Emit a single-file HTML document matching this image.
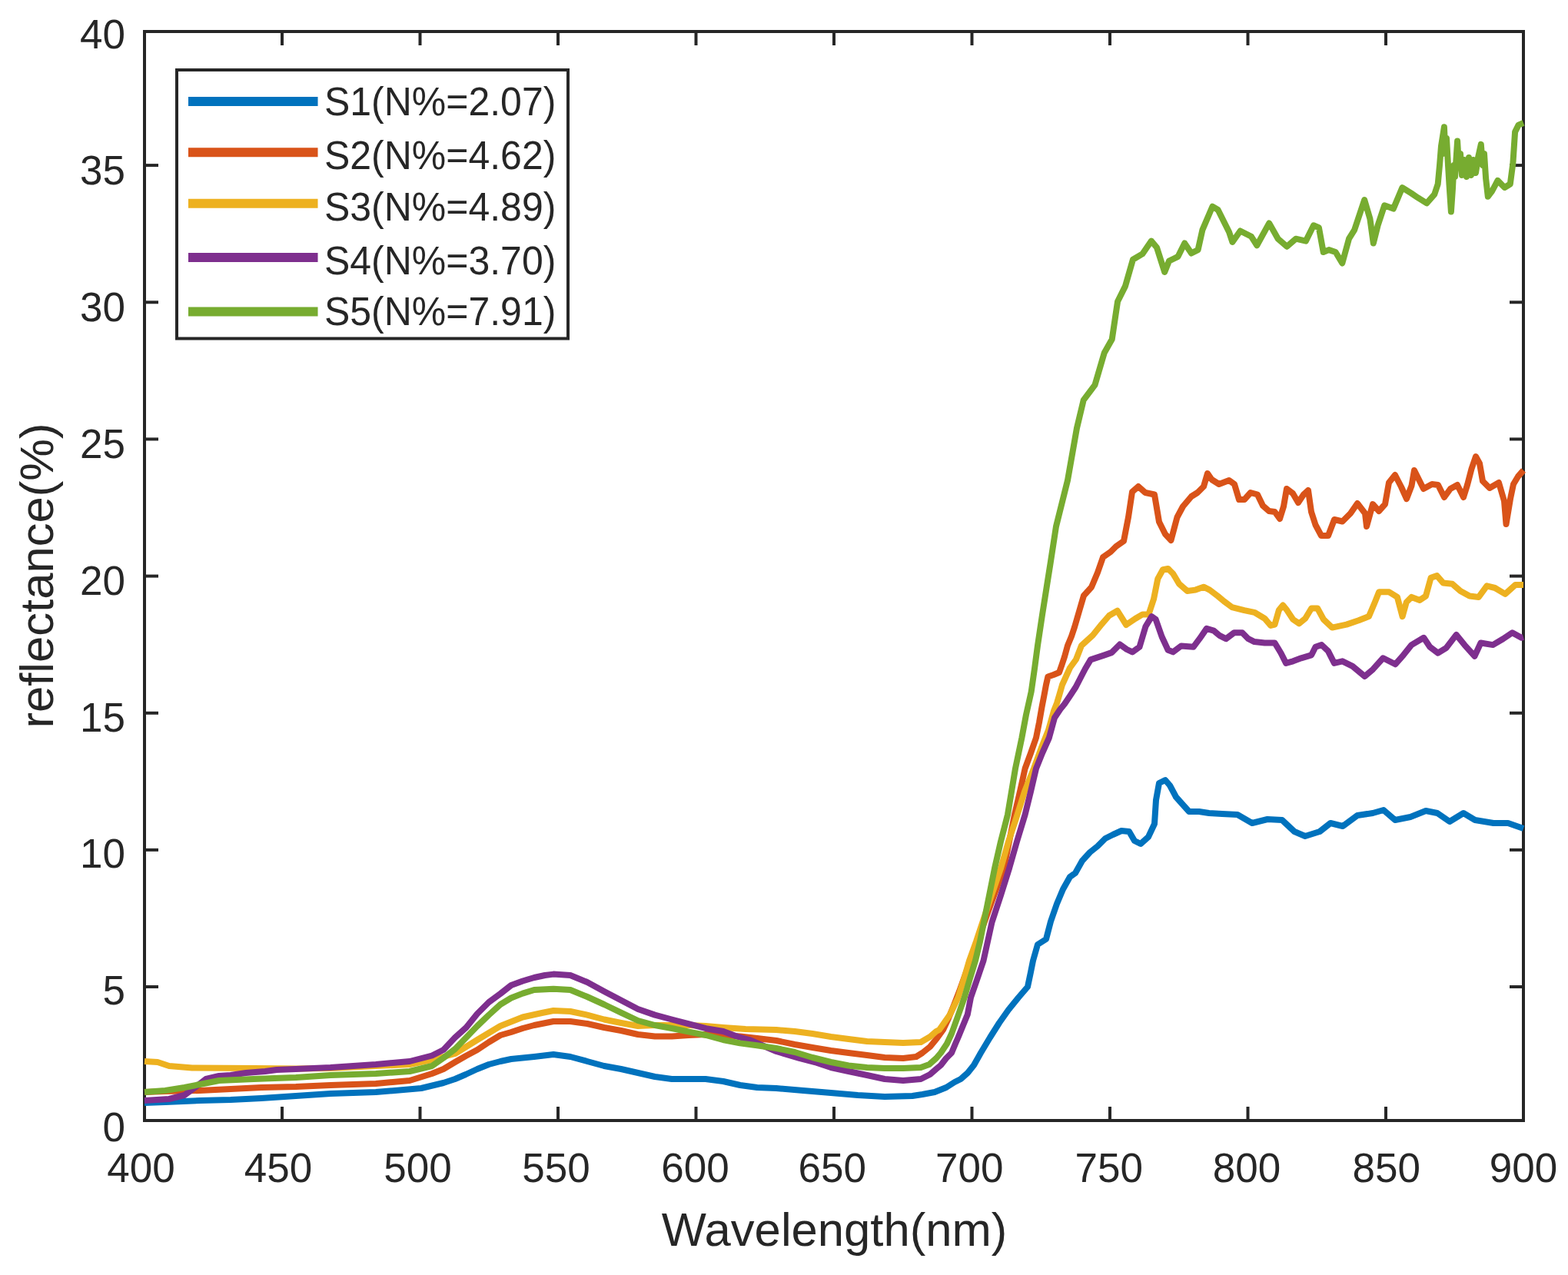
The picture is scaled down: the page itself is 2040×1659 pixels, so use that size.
<!DOCTYPE html>
<html><head><meta charset="utf-8"><title>reflectance</title>
<style>html,body{margin:0;padding:0;background:#fff;overflow:hidden}svg{display:block}text{font-family:"Liberation Sans",Arial,Helvetica,sans-serif;fill:#262626}</style></head><body>
<svg width="2040" height="1659" viewBox="0 0 2040 1659">
<rect x="0" y="0" width="2040" height="1659" fill="#fff"/>
<g stroke="#262626" stroke-width="4" fill="none" stroke-linecap="square">
<rect x="188" y="41" width="1794" height="1417"/>
<line x1="188" y1="1284.0" x2="204" y2="1284.0"/>
<line x1="1982" y1="1284.0" x2="1966" y2="1284.0"/>
<line x1="188" y1="1105.9" x2="204" y2="1105.9"/>
<line x1="1982" y1="1105.9" x2="1966" y2="1105.9"/>
<line x1="188" y1="927.8" x2="204" y2="927.8"/>
<line x1="1982" y1="927.8" x2="1966" y2="927.8"/>
<line x1="188" y1="749.6" x2="204" y2="749.6"/>
<line x1="1982" y1="749.6" x2="1966" y2="749.6"/>
<line x1="188" y1="571.4" x2="204" y2="571.4"/>
<line x1="1982" y1="571.4" x2="1966" y2="571.4"/>
<line x1="188" y1="393.3" x2="204" y2="393.3"/>
<line x1="1982" y1="393.3" x2="1966" y2="393.3"/>
<line x1="188" y1="215.1" x2="204" y2="215.1"/>
<line x1="1982" y1="215.1" x2="1966" y2="215.1"/>
<line x1="367.0" y1="1458" x2="367.0" y2="1442"/>
<line x1="367.0" y1="41" x2="367.0" y2="57"/>
<line x1="546.5" y1="1458" x2="546.5" y2="1442"/>
<line x1="546.5" y1="41" x2="546.5" y2="57"/>
<line x1="726.0" y1="1458" x2="726.0" y2="1442"/>
<line x1="726.0" y1="41" x2="726.0" y2="57"/>
<line x1="905.5" y1="1458" x2="905.5" y2="1442"/>
<line x1="905.5" y1="41" x2="905.5" y2="57"/>
<line x1="1085.0" y1="1458" x2="1085.0" y2="1442"/>
<line x1="1085.0" y1="41" x2="1085.0" y2="57"/>
<line x1="1264.5" y1="1458" x2="1264.5" y2="1442"/>
<line x1="1264.5" y1="41" x2="1264.5" y2="57"/>
<line x1="1444.0" y1="1458" x2="1444.0" y2="1442"/>
<line x1="1444.0" y1="41" x2="1444.0" y2="57"/>
<line x1="1623.5" y1="1458" x2="1623.5" y2="1442"/>
<line x1="1623.5" y1="41" x2="1623.5" y2="57"/>
<line x1="1803.0" y1="1458" x2="1803.0" y2="1442"/>
<line x1="1803.0" y1="41" x2="1803.0" y2="57"/>
</g>
<g fill="none" stroke-width="8" stroke-linejoin="round" stroke-linecap="butt">
<polyline stroke="#0072BD" points="188,1435 215,1434 260,1432 300,1431 340,1429 385,1426 430,1423 489,1421 548,1416 577,1409 592,1404 606,1398 621,1391 636,1385 651,1381 665,1378 695,1375 720,1372 742,1375 764,1381 786,1387 808,1391 830,1396 852,1401 874,1404 918,1404 941,1407 963,1412 985,1415 1010,1416 1045,1419 1081,1422 1116,1425 1151,1427 1187,1426 1200,1424 1216,1421 1231,1415 1242,1408 1250,1404 1259,1396 1267,1386 1276,1370 1288,1350 1300,1331 1312,1314 1325,1298 1337,1284 1341,1265 1344,1250 1350,1229 1361,1222 1367,1199 1375,1176 1383,1157 1392,1141 1399,1136 1408,1120 1418,1109 1428,1101 1438,1091 1448,1086 1459,1081 1469,1082 1476,1094 1484,1098 1494,1089 1502,1072 1504,1041 1508,1019 1516,1015 1522,1022 1530,1037 1538,1046 1547,1056 1560,1056 1573,1058 1590,1059 1610,1060 1629,1071 1649,1066 1668,1067 1684,1082 1698,1088 1717,1082 1731,1071 1747,1075 1766,1061 1786,1058 1800,1054 1815,1067 1835,1063 1855,1055 1870,1058 1886,1069 1904,1058 1919,1067 1943,1071 1962,1071 1982,1078"/>
<polyline stroke="#D95319" points="188,1421 215,1420 260,1419 300,1417 340,1415 385,1414 430,1412 489,1410 533,1406 562,1397 577,1391 592,1382 606,1374 621,1366 636,1356 651,1347 665,1343 680,1338 695,1334 720,1329 742,1329 764,1332 786,1337 808,1341 830,1346 852,1348.5 874,1348.5 896,1347 918,1346 941,1347 963,1348.5 985,1351 1010,1354 1034,1359 1057,1363 1081,1367 1104,1370 1128,1373 1151,1376 1175,1377 1192,1375 1200,1370 1210,1362 1219,1351 1227,1340 1234,1325 1241,1308 1248,1290 1262,1251 1276,1213 1290,1174 1306,1130 1313,1095 1320,1060 1327,1030 1333.6,1000 1341,980 1348,960 1352,940 1355.5,920 1358.4,905 1361,891 1363.4,880.5 1370.7,878 1378,875 1381.5,865 1385,854.5 1389,840 1394,828 1398,816 1405,792 1410,775 1420,764 1428,745 1435,725 1445,718 1452,711 1462,704 1468,673 1473,640 1481,633 1490,641 1502,643.5 1508,679 1516,695 1523.5,703 1531.5,673 1539,659 1550,646 1558,641 1566,633 1571,616 1576.5,624 1586,630 1599,625 1606,630 1612,650 1619,650 1627,641 1636,643.5 1643,658 1651,665 1658.5,666 1665,675 1670,659 1674,636 1682,642 1689,654 1696,643.5 1702,638 1706,666 1711.5,683 1719,697 1728,697 1736,676 1746.5,678.5 1757,668 1766,655 1776,668 1778,685 1786,656 1794,665 1802,656 1807,628 1815,618 1823,633.5 1830,649 1836.5,632 1840,612 1847,626 1852,636 1863,630 1871,631 1879,647 1887,636 1896,631 1904,647 1909,631 1914.5,610 1920,594 1925,603 1929,626 1938,635 1950,628 1957,652 1959.5,682 1965,649 1969,630 1975,620 1982,612"/>
<polyline stroke="#EDB120" points="188,1381 205,1382 220,1387 250,1389.5 330,1390 385,1390.5 430,1390 489,1387 533,1385 562,1379 592,1371 621,1353 651,1335 680,1323.5 705,1318 720,1315 742,1316 764,1320.6 786,1326.5 808,1331 830,1335 852,1334 874,1334 896,1334 918,1335 941,1337 970,1339 1010,1340 1034,1342 1057,1345 1081,1349 1104,1352 1128,1355 1151,1356 1175,1357 1198,1356 1210,1349 1218,1342 1222,1340 1229,1330 1236,1320 1246.5,1298 1254,1274 1261,1250 1270,1225 1280,1195 1290,1165 1302,1130 1312,1095 1322,1065 1333,1030 1345,1000 1356,970 1364,950 1371,925 1375,915 1378,905 1382,891 1387,880 1392,869 1400,858 1407,840 1421.8,826.5 1433.4,812.1 1443,801 1453.7,794.7 1465.2,813 1477,805 1486.5,799.4 1494.4,799.4 1501,779.6 1506.3,753.1 1512.9,741.2 1519.6,739.9 1526.2,746.5 1534.1,759.7 1544.7,769 1555.3,767.6 1565.9,763.7 1573.8,767.6 1584.4,775.6 1592.3,782.2 1602.9,790.1 1618.8,794.1 1632,796.8 1645.3,804.7 1653.2,814 1658.5,812.6 1663.8,794.1 1669.1,787.5 1674.4,794.1 1682.3,806 1690.3,811.3 1698.2,804.7 1706.2,791.5 1714.1,791.5 1722,806 1733.2,816.6 1751.8,812.6 1767.6,807.3 1780.9,802.1 1788.8,783.5 1794.1,770.3 1807.3,770.3 1817.9,776.9 1824.6,802.1 1829.8,783.5 1836.5,776.9 1847.1,780.9 1855,775.6 1861.6,751.8 1869.5,749.1 1877.5,758.4 1889.4,759.7 1900,769 1911.9,775.6 1923.8,776.9 1934.4,762.4 1945,765 1958.2,772.9 1971.5,761 1982,761"/>
<polyline stroke="#7E2F8E" points="188,1432 220,1430 240,1425 255,1414 268,1404 285,1400 300,1399 320,1396 345,1394 360,1392 385,1391 430,1389 489,1385 533,1381 562,1373.5 577,1366 592,1350 606.5,1337 621,1319 636,1304 651,1293 665,1282 680,1276.5 695,1272 709,1269 720,1267.6 742,1269 764,1278 786,1290 808,1301.5 830,1313 852,1320.6 874,1326.5 896.5,1332.4 918.5,1338.2 941,1342 960,1349 975,1353 1010,1368 1040,1377 1063,1383 1081,1389 1104,1394 1128,1399 1151,1404 1175,1406 1198,1404 1210,1398 1218,1391 1224,1386 1231,1377 1238,1370 1243,1358 1246.5,1350 1250.6,1340 1258.8,1320 1263,1298 1271,1275 1279.5,1250 1285,1225 1290.5,1200 1302,1165 1313,1130 1323,1095 1333.6,1060 1341,1030 1348,1000 1356,980 1364.9,960 1372,934 1379.3,923 1385,916 1392.4,905 1399.6,894 1406.8,880 1412,870 1418.9,858.4 1436.3,852.6 1446.3,849.1 1456.9,838.5 1466,845 1473.2,848.4 1482.5,841.8 1490.4,815.3 1498.4,802.1 1503.7,806 1511.6,828.5 1519.6,845.7 1526.2,848.4 1536.8,840.4 1552.6,841.8 1560.6,831.2 1569.8,817.9 1579.1,820.6 1587,827.2 1595,831.2 1605.6,823.2 1616.2,823.2 1624.1,831.2 1632,835.1 1645.3,836.5 1658.5,836.5 1666.5,849.7 1673.1,862.9 1682.3,860.3 1692.9,856.3 1706.2,852.3 1711.5,841.8 1719.4,839.1 1727.9,847.1 1735.9,862.9 1746.5,860.3 1759.7,866.9 1775.6,880.1 1786.2,870.9 1799.4,856.3 1815.3,864.3 1825.9,852.3 1836.5,839.1 1852.3,829.8 1860.3,841.8 1870.9,849.7 1881.5,843.1 1894.7,825.9 1905.3,839.1 1918.5,853.7 1926.5,836.5 1942.3,839.1 1955.6,831.2 1967.5,823.2 1979.4,829.8 1982,829"/>
<polyline stroke="#77AC30" points="188,1421 215,1419 240,1415 265,1410 285,1406 330,1404 385,1402 430,1399 489,1397 533,1394 562,1387 577,1376.5 592,1365 606.5,1350 621,1335 636,1320.6 651,1307 665,1298.5 680,1292.6 695,1288 720,1286.8 742,1288 764,1297 786,1307 808,1317.6 830,1328 852,1334 874,1338 896.5,1342.6 918.5,1347 940.6,1353 962.6,1357.4 984.7,1360.3 1010,1364 1034,1369 1057,1376 1081,1382 1104,1386.5 1128,1389 1151,1390 1175,1390 1198,1389 1209,1385 1218,1377 1224,1370 1232,1358 1238,1345 1247,1320 1254.7,1298 1262,1273 1269,1250 1275,1225 1280,1200 1287,1165 1294,1130 1302,1095 1311,1060 1321,1000 1329.4,960 1335,930 1341.7,900 1346,870 1350,840 1356,800 1366.7,732.4 1374,685 1389,625 1401,557 1409.7,520.6 1424.5,500.9 1436.8,458.9 1446.7,441.6 1454.1,392.2 1464,372.4 1473.9,337.8 1486.3,330.4 1497.9,313.6 1505,322 1515.2,354 1521,339.6 1532.6,333.8 1541.2,316.4 1550,329.5 1558.6,325.1 1564.4,299.1 1577.4,268.7 1584.6,273 1599.1,302 1603.4,315 1613.6,300.5 1628,307.8 1635.3,319.3 1651.2,290.4 1662.7,310.7 1674.3,320.8 1685.9,310.7 1698.9,313.6 1709,293.3 1715.9,296.2 1721.7,328 1728.9,325.1 1737.6,328 1746.3,342.5 1755,310.7 1762.2,299.1 1775.2,260 1782.4,284.6 1786.8,316.5 1792.6,293.3 1801.2,267.3 1812.8,271.6 1824.4,244.1 1836,251.4 1844.6,257.2 1856.2,264.4 1866.3,252.8 1870.7,239.5 1873,215 1875,190 1878.9,165.3 1880.5,200 1882,180 1884,215 1885.5,240 1887.9,275.6 1890,245 1891.5,215 1893,230 1896.1,183.4 1898,215 1900,200 1902,228 1905,208 1908,230 1911,205 1914,228 1917,208 1920,225 1923,205 1926.8,187.9 1929,215 1931,200 1933.1,232 1935.8,255.7 1941.3,248.5 1948.5,234.9 1957.5,244 1964.8,239.5 1968.4,212.3 1971.1,171.6 1975.6,162.6 1982,160"/>
</g>
<g font-size="53">
<text x="163" y="1485.0" text-anchor="end">0</text>
<text x="163" y="1307.2" text-anchor="end">5</text>
<text x="163" y="1129.4" text-anchor="end">10</text>
<text x="163" y="951.6" text-anchor="end">15</text>
<text x="163" y="773.8" text-anchor="end">20</text>
<text x="163" y="596.0" text-anchor="end">25</text>
<text x="163" y="418.2" text-anchor="end">30</text>
<text x="163" y="240.4" text-anchor="end">35</text>
<text x="163" y="62.6" text-anchor="end">40</text>
<text x="183.5" y="1537.8" text-anchor="middle">400</text>
<text x="362.0" y="1537.8" text-anchor="middle">450</text>
<text x="543.5" y="1537.8" text-anchor="middle">500</text>
<text x="723.5" y="1537.8" text-anchor="middle">550</text>
<text x="904.5" y="1537.8" text-anchor="middle">600</text>
<text x="1082.8" y="1537.8" text-anchor="middle">650</text>
<text x="1261.2" y="1537.8" text-anchor="middle">700</text>
<text x="1442.8" y="1537.8" text-anchor="middle">750</text>
<text x="1622.0" y="1537.8" text-anchor="middle">800</text>
<text x="1803.7" y="1537.8" text-anchor="middle">850</text>
<text x="1982.0" y="1537.8" text-anchor="middle">900</text>
</g>
<text x="1085.5" y="1621" font-size="61.6" text-anchor="middle">Wavelength(nm)</text>
<text transform="translate(68.5,749) rotate(-90)" x="0" y="0" font-size="61.6" text-anchor="middle">reflectance(%)</text>
<rect x="230" y="91" width="509" height="349.5" fill="#fff" stroke="#262626" stroke-width="4"/>
<line x1="245" y1="132.1" x2="413.5" y2="132.1" stroke="#0072BD" stroke-width="12"/>
<text transform="translate(422,149.5) scale(0.961,1)" x="0" y="0" font-size="52">S1(N%=2.07)</text>
<line x1="245" y1="198.3" x2="413.5" y2="198.3" stroke="#D95319" stroke-width="12"/>
<text transform="translate(422,220) scale(0.961,1)" x="0" y="0" font-size="52">S2(N%=4.62)</text>
<line x1="245" y1="264.8" x2="413.5" y2="264.8" stroke="#EDB120" stroke-width="12"/>
<text transform="translate(422,286.5) scale(0.961,1)" x="0" y="0" font-size="52">S3(N%=4.89)</text>
<line x1="245" y1="334.9" x2="413.5" y2="334.9" stroke="#7E2F8E" stroke-width="12"/>
<text transform="translate(422,357) scale(0.961,1)" x="0" y="0" font-size="52">S4(N%=3.70)</text>
<line x1="245" y1="405.4" x2="413.5" y2="405.4" stroke="#77AC30" stroke-width="12"/>
<text transform="translate(422,423) scale(0.961,1)" x="0" y="0" font-size="52">S5(N%=7.91)</text>
</svg>
</body></html>
